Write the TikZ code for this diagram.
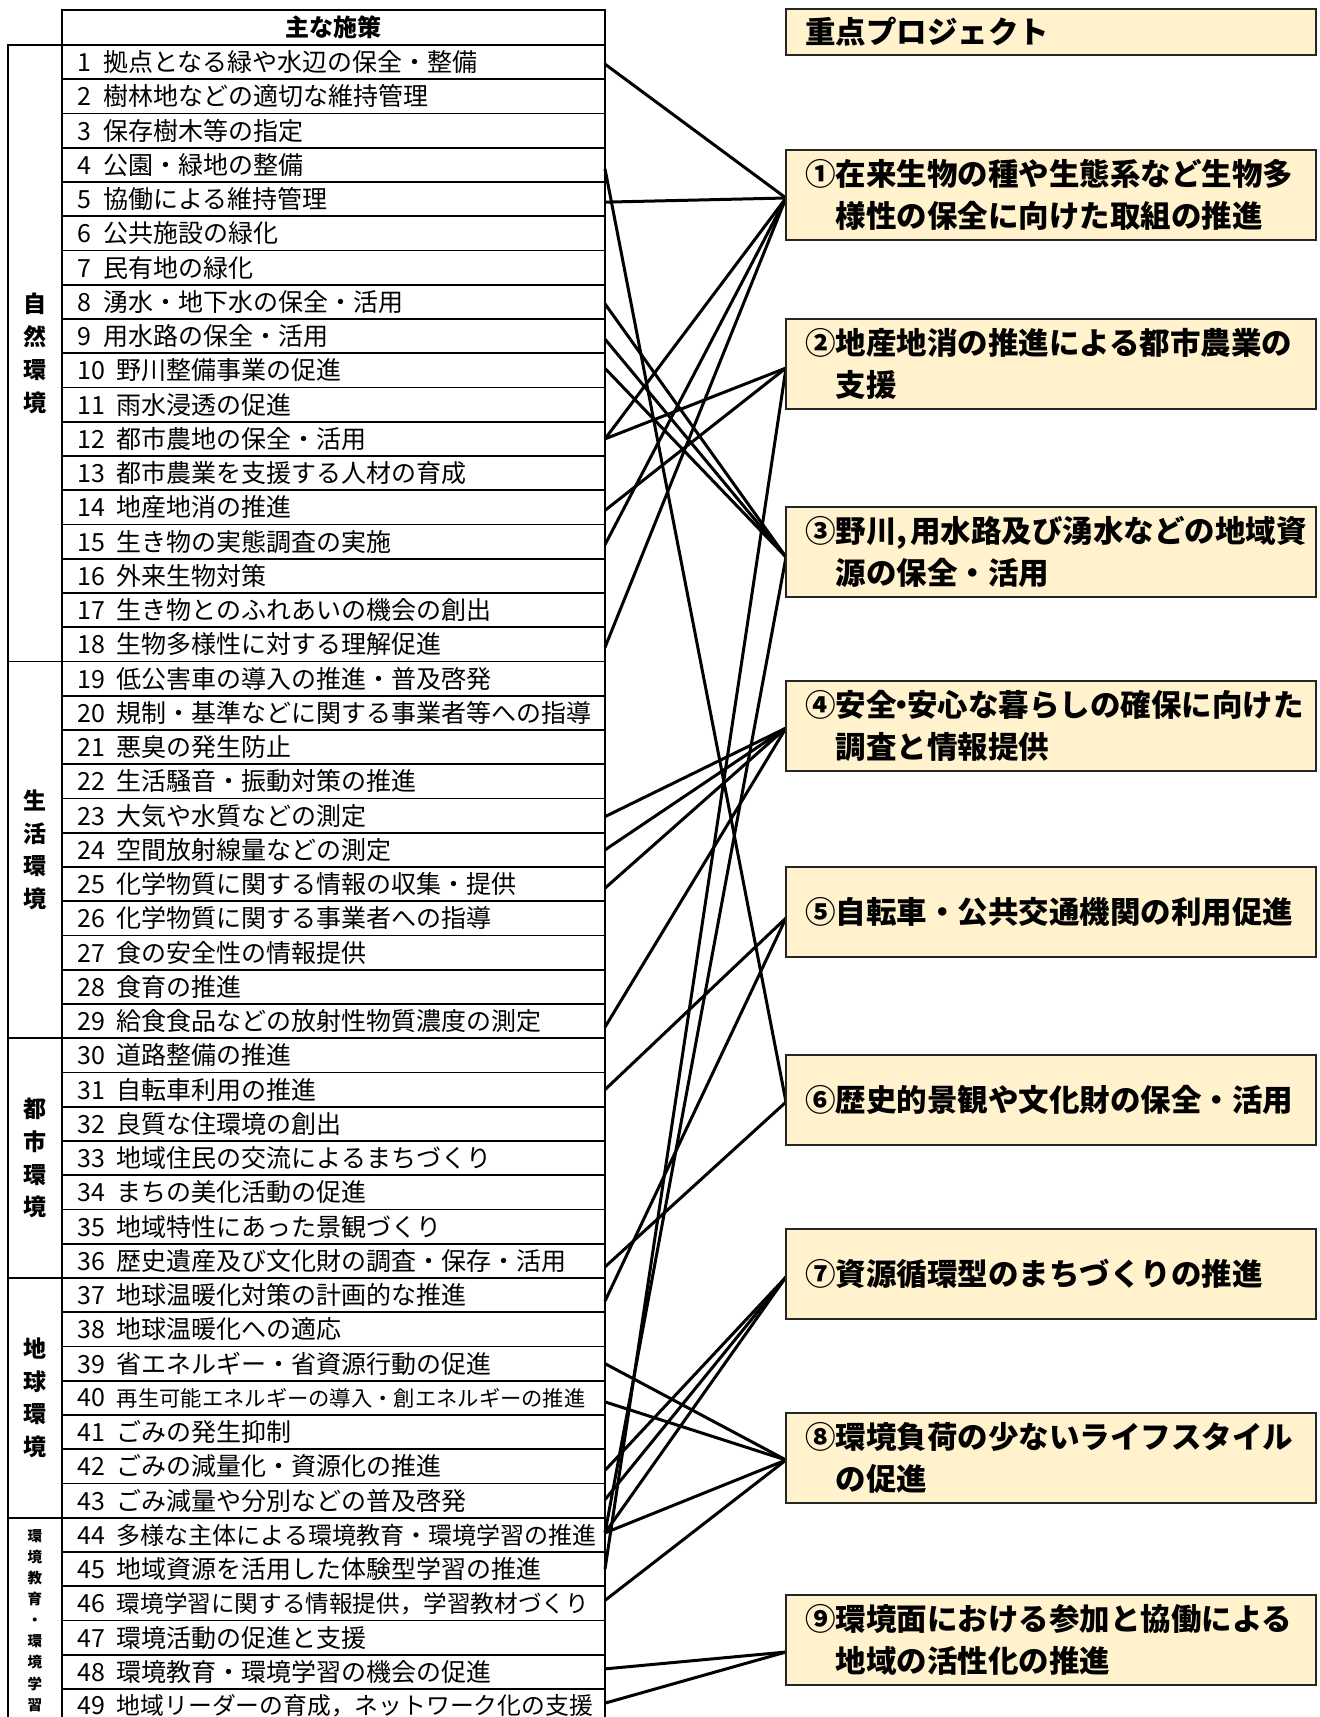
\documentclass[tikz,border=0pt]{standalone}
\usepackage{fontspec}
\setmainfont{Noto Sans CJK JP}
\definecolor{pfill}{HTML}{FFF2CC}
\begin{document}
\begin{tikzpicture}[x=1pt,y=-1pt,
  tline/.style={draw=black, line width=1.8pt},
  cell/.style={tline, minimum width=543pt, minimum height=34.25pt, inner sep=0pt, outer sep=0pt, anchor=north west},
  catcell/.style={tline, minimum width=54.3pt, inner sep=0pt, outer sep=0pt, anchor=north west},
  itemtxt/.style={anchor=west, inner sep=0pt, font=\fontsize{25}{30}\selectfont},
  cattxt/.style={align=center, inner sep=0pt, font=\bfseries\fontsize{23}{32.7}\selectfont},
  pbox/.style={draw=black!85, line width=1.8pt, fill=pfill, minimum width=530pt, minimum height=90pt, inner sep=0pt, outer sep=0pt, anchor=north west},
  ptxt/.style={anchor=west, align=left, inner sep=0pt, font=\bfseries\fontsize{30.5}{42}\selectfont},
  conn/.style={draw=black, line width=3pt}
]
\fill[white] (0,0) rectangle (1320,1717);
\useasboundingbox (0,0) rectangle (1320,1717);

% header
\node[cell, minimum height=35pt, font=\bfseries\fontsize{24}{24}\selectfont] (hd) at (62,10) {主な施策};

% category cells
\node[catcell, minimum height=616.5pt] (k1) at (7.7,45) {};
\node[catcell, minimum height=376.75pt] (k2) at (7.7,661.5) {};
\node[catcell, minimum height=239.75pt] (k3) at (7.7,1038.25) {};
\node[catcell, minimum height=239.75pt] (k4) at (7.7,1278) {};
\node[catcell, minimum height=205.5pt] (k5) at (7.7,1517.75) {};
\node[cattxt] (kt1) at (k1.center) {自\\然\\環\\境};
\node[cattxt] (kt2) at (k2.center) {生\\活\\環\\境};
\node[cattxt] (kt3) at (k3.center) {都\\市\\環\\境};
\node[cattxt] (kt4) at (k4.center) {地\\球\\環\\境};
\node[cattxt, font=\bfseries\fontsize{14.5}{21.1}\selectfont] (kt5) at (k5.center) {環\\境\\教\\育\\・\\環\\境\\学\\習};

% rows
\foreach \rn/\rt in {
 1/拠点となる緑や水辺の保全・整備,
 2/樹林地などの適切な維持管理,
 3/保存樹木等の指定,
 4/公園・緑地の整備,
 5/協働による維持管理,
 6/公共施設の緑化,
 7/民有地の緑化,
 8/湧水・地下水の保全・活用,
 9/用水路の保全・活用,
 10/野川整備事業の促進,
 11/雨水浸透の促進,
 12/都市農地の保全・活用,
 13/都市農業を支援する人材の育成,
 14/地産地消の推進,
 15/生き物の実態調査の実施,
 16/外来生物対策,
 17/生き物とのふれあいの機会の創出,
 18/生物多様性に対する理解促進,
 19/低公害車の導入の推進・普及啓発,
 20/規制・基準などに関する事業者等への指導,
 21/悪臭の発生防止,
 22/生活騒音・振動対策の推進,
 23/大気や水質などの測定,
 24/空間放射線量などの測定,
 25/化学物質に関する情報の収集・提供,
 26/化学物質に関する事業者への指導,
 27/食の安全性の情報提供,
 28/食育の推進,
 29/給食食品などの放射性物質濃度の測定,
 30/道路整備の推進,
 31/自転車利用の推進,
 32/良質な住環境の創出,
 33/地域住民の交流によるまちづくり,
 34/まちの美化活動の促進,
 35/地域特性にあった景観づくり,
 36/歴史遺産及び文化財の調査・保存・活用,
 37/地球温暖化対策の計画的な推進,
 38/地球温暖化への適応,
 39/省エネルギー・省資源行動の促進,
 40/{\fontsize{21.3}{25}\selectfont 再生可能エネルギーの導入・創エネルギーの推進},
 41/ごみの発生抑制,
 42/ごみの減量化・資源化の推進,
 43/ごみ減量や分別などの普及啓発,
 44/{\fontsize{24}{25}\selectfont 多様な主体による環境教育・環境学習の推進},
 45/地域資源を活用した体験型学習の推進,
 46/{\fontsize{23.6}{25}\selectfont 環境学習に関する情報提供，学習教材づくり},
 47/環境活動の促進と支援,
 48/環境教育・環境学習の機会の促進,
 49/{\fontsize{23.8}{25}\selectfont 地域リーダーの育成，ネットワーク化の支援}}{
  \pgfmathsetmacro\yy{45+(\rn-1)*34.25}
  \node[cell] (r\rn) at (62,\yy) {};
  \node[itemtxt] (t\rn) at ([xshift=15pt]r\rn.west) {\rn\hspace{12pt}\rt};
}

% hubs on project boxes
\coordinate (h1) at (786,198);
\coordinate (h2) at (786,368);
\coordinate (h3) at (786,557);
\coordinate (h4) at (786,728);
\coordinate (h5) at (786,918);
\coordinate (h6) at (786,1102);
\coordinate (h7) at (786,1277);
\coordinate (h8) at (786,1460);
\coordinate (h9) at (786,1652);

% connectors
\foreach \fr/\fh/\fd in {1/1/-2, 5/1/-3, 12/1/0, 15/1/-3, 18/1/-3,
  12/2/0, 14/2/-3, 45/2/0,
  8/3/-2, 9/3/-3, 10/3/2, 44/3/2,
  23/4/-1, 24/4/0, 25/4/-4, 29/4/-6,
  31/5/0, 37/5/-6,
  4/6/-4, 36/6/-6,
  42/7/-4, 43/7/1, 44/7/2,
  39/8/0, 40/8/-4, 44/8/2, 46/8/3,
  48/9/3, 49/9/3}
  \draw[conn] ([yshift=\fd pt]r\fr.east) -- (h\fh);

% project boxes
\node[pbox, minimum height=46pt] (p0) at (786,9) {};
\foreach \pk/\ptop in {1/150, 2/319, 3/507, 4/681, 5/867, 6/1055, 7/1229, 8/1413, 9/1595}
  \node[pbox] (p\pk) at (786,\ptop) {};

\node[ptxt] (q0) at ([xshift=19pt]p0.west) {重点プロジェクト};
\node[ptxt] (q1) at ([xshift=19pt]p1.west) {①在来生物の種や生態系など生物多\\\hspace*{1em}様性の保全に向けた取組の推進};
\node[ptxt] (q2) at ([xshift=19pt]p2.west) {②地産地消の推進による都市農業の\\\hspace*{1em}支援};
\node[ptxt] (q3) at ([xshift=19pt]p3.west) {③野川,\hspace{3pt}用水路及び湧水などの地域資\\\hspace*{1em}源の保全・活用};
\node[ptxt] (q4) at ([xshift=19pt]p4.west) {④安全\kern-10pt・\kern-10pt安心な暮らしの確保に向けた\\\hspace*{1em}調査と情報提供};
\node[ptxt] (q5) at ([xshift=19pt]p5.west) {⑤自転車・公共交通機関の利用促進};
\node[ptxt] (q6) at ([xshift=19pt]p6.west) {⑥歴史的景観や文化財の保全・活用};
\node[ptxt] (q7) at ([xshift=19pt]p7.west) {⑦資源循環型のまちづくりの推進};
\node[ptxt] (q8) at ([xshift=19pt]p8.west) {⑧環境負荷の少ないライフスタイル\\\hspace*{1em}の促進};
\node[ptxt] (q9) at ([xshift=19pt]p9.west) {⑨環境面における参加と協働による\\\hspace*{1em}地域の活性化の推進};
\end{tikzpicture}
\end{document}
